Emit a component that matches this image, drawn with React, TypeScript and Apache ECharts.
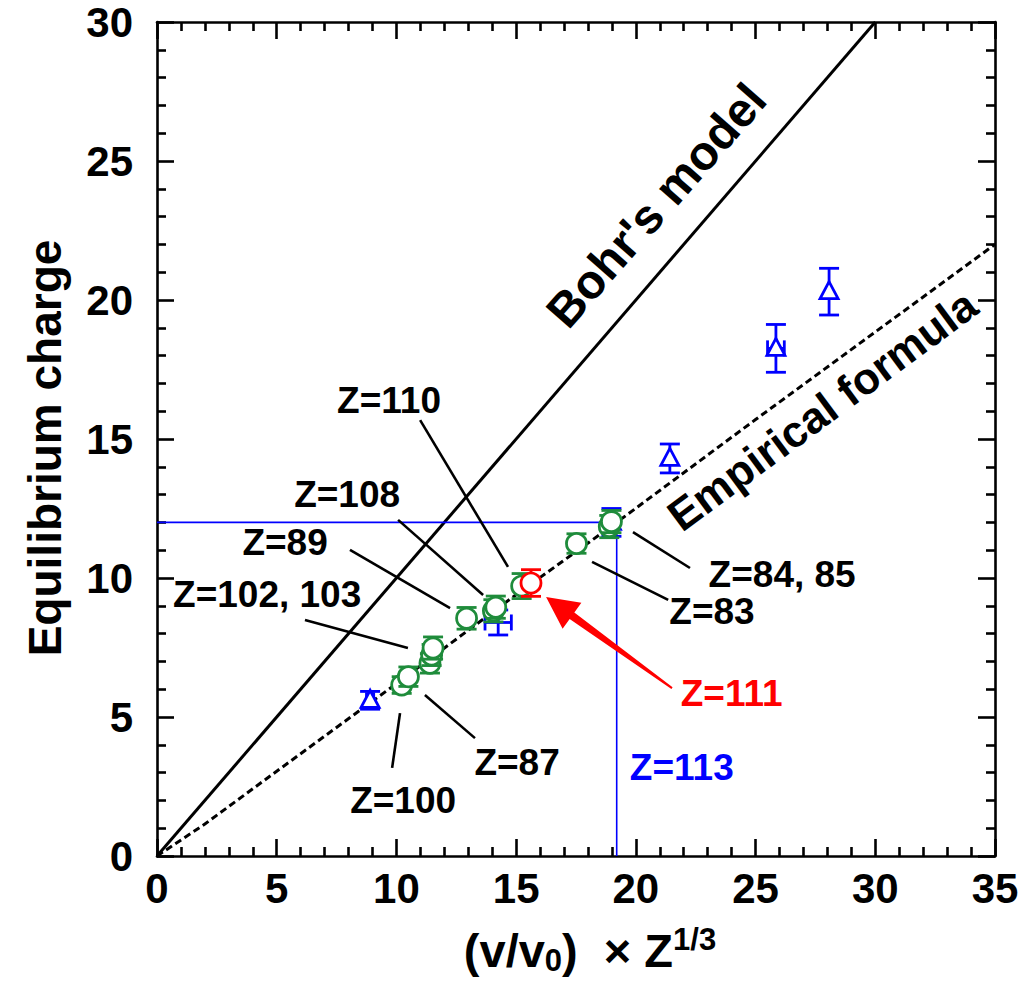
import React, { useEffect, useRef } from "react";
import * as echarts from "echarts";

const FONT = '"Liberation Sans", Arial, Helvetica, sans-serif';

// Theory curves [x, y]
const bohrLine = [[0, 0], [30, 30]];
const empiricalLine = [[0, 0], [2, 1.15], [5, 3.05], [10, 6.2], [15, 9.4], [19.2, 12.0], [25, 15.7], [30, 18.85], [35, 22.0]];

// Z=113 guide lines
const guideH = [[0, 12], [19.2, 12]];
const guideV = [[19.2, 0], [19.2, 12]];

// [x, y, yErr]
const greenPoints = [
  [10.22, 6.15, 0.3],
  [10.5, 6.45, 0.35],
  [11.4, 6.93, 0.35],
  [11.47, 7.23, 0.38],
  [11.53, 7.48, 0.4],
  [12.93, 8.55, 0.39],
  [14.05, 8.82, 0.4],
  [14.15, 8.95, 0.4],
  [15.23, 9.71, 0.45],
  [17.52, 11.24, 0.35],
  [18.89, 11.85, 0.4],
  [18.98, 12.03, 0.4],
];
const redPoints = [[15.62, 9.82, 0.48]];
// [x, y, yErr, xErr, markerShown]
const bluePoints = [
  [8.9, 5.6, 0.32, 0.15, 1],
  [14.25, 8.4, 0.45, 0.55, 0],
  [18.98, 12.0, 0.5, 0, 1],
  [21.42, 14.3, 0.52, 0, 1],
  [25.85, 18.26, 0.86, 0.35, 1],
  [28.07, 20.3, 0.84, 0, 1],
];

// pointer segments [x1, y1, x2, y2]
const pointerLines = [
  [10.99, 15.68, 14.66, 10.4],
  [10.07, 12.09, 13.62, 9.39],
  [8.06, 11.01, 12.24, 8.92],
  [6.18, 8.49, 10.48, 7.48],
  [10.15, 5.14, 9.82, 3.17],
  [11.19, 5.79, 13.28, 4.24],
  [19.88, 11.65, 22.26, 10.36],
  [18.17, 10.58, 21.35, 9.21],
];
// red arrow [tailX, tailY, tipX, tipY]
const arrowData = [[21.51, 6.04, 16.25, 9.32]];

// annotations [text, x, y, rotateDeg, color, fontSize]
const annotations: [string, number, number, number, string, number][] = [
  ["Z=110", 9.69, 16.4, 0, "#000", 37],
  ["Z=108", 7.94, 12.99, 0, "#000", 37],
  ["Z=89", 5.35, 11.26, 0, "#000", 37],
  ["Z=102, 103", 4.6, 9.42, 0, "#000", 37],
  ["Z=100", 10.28, 2.01, 0, "#000", 37],
  ["Z=87", 15.04, 3.38, 0, "#000", 37],
  ["Z=84, 85", 26.11, 10.11, 0, "#000", 37],
  ["Z=83", 23.18, 8.78, 0, "#000", 37],
  ["Z=111", 24.0, 5.83, 0, "#ff0000", 37],
  ["Z=113", 21.92, 3.18, 0, "#0000ff", 37],
  ["Bohr's model", 20.85, 23.4, 48.8, "#000", 48],
  ["Empirical formula", 27.78, 16.04, 36.5, "#000", 44],
];

const GREEN = "#1f8c3b";
const BLUE = "#0000ff";
const RED = "#ff0000";

function errorBarRenderer(color: string, marker: "circle" | "triangle") {
  return (params: any, api: any) => {
    const x = api.value(0);
    const y = api.value(1);
    const ey = api.value(2);
    const ex = marker === "triangle" ? api.value(3) : 0;
    const show = marker === "triangle" ? api.value(4) : 1;
    const c = api.coord([x, y]);
    const t = api.coord([x, y + ey]);
    const b = api.coord([x, y - ey]);
    const lw = 2.8;
    const cap = 10;
    const st = { stroke: color, lineWidth: lw };
    const children: any[] = [
      { type: "line", shape: { x1: c[0], y1: t[1], x2: c[0], y2: b[1] }, style: st },
      { type: "line", shape: { x1: c[0] - cap, y1: t[1], x2: c[0] + cap, y2: t[1] }, style: st },
      { type: "line", shape: { x1: c[0] - cap, y1: b[1], x2: c[0] + cap, y2: b[1] }, style: st },
    ];
    if (ex > 0) {
      const l = api.coord([x - ex, y]);
      const r = api.coord([x + ex, y]);
      children.push(
        { type: "line", shape: { x1: l[0], y1: c[1], x2: r[0], y2: c[1] }, style: st },
        { type: "line", shape: { x1: l[0], y1: c[1] - 8, x2: l[0], y2: c[1] + 8 }, style: st },
        { type: "line", shape: { x1: r[0], y1: c[1] - 8, x2: r[0], y2: c[1] + 8 }, style: st }
      );
    }
    if (show) {
      if (marker === "circle") {
        children.push({ type: "circle", shape: { cx: c[0], cy: c[1], r: 10 }, style: { fill: "#fff", stroke: color, lineWidth: lw } });
      } else {
        children.push({
          type: "polygon",
          shape: { points: [[c[0], c[1] - 10], [c[0] - 9, c[1] + 7], [c[0] + 9, c[1] + 7]] },
          style: { fill: "#fff", stroke: color, lineWidth: lw },
        });
      }
    }
    return { type: "group", children };
  };
}

export default function App() {
  const ref = useRef<HTMLDivElement>(null);
  useEffect(() => {
    if (!ref.current) return;
    const chart = echarts.init(ref.current, undefined, { renderer: "svg" });
    const axisCommon = {
      type: "value" as const,
      axisLine: { show: true, onZero: false, lineStyle: { color: "#000", width: 2.6 } },
      axisTick: { show: true, inside: true, length: 17, lineStyle: { color: "#000", width: 2.6 } },
      minorTick: { show: true, splitNumber: 5, length: 9, lineStyle: { color: "#000", width: 2.6 } },
      splitLine: { show: false },
    };
    const tickLabel = { fontSize: 42, lineHeight: 34, fontWeight: "bold" as const, color: "#000", fontFamily: FONT };
    chart.setOption({
      animation: false,
      backgroundColor: "#fff",
      grid: { left: 157, right: 27, top: 22, bottom: 141, containLabel: false },
      xAxis: [
        {
          ...axisCommon,
          min: 0, max: 35, interval: 5, position: "bottom",
          axisLabel: { ...tickLabel, margin: 15 },
          name: "{a|(v/v}{s|0}{a|)  × Z}{p|1/3}",
          nameLocation: "middle",
          nameGap: 68,
          nameTextStyle: {
            padding: [0, 0, 0, 28],
            rich: {
              a: { fontSize: 47, fontWeight: "bold", fontFamily: FONT, color: "#000", lineHeight: 52 },
              s: { fontSize: 31, fontWeight: "bold", fontFamily: FONT, color: "#000", verticalAlign: "bottom", lineHeight: 34 },
              p: { fontSize: 31, fontWeight: "bold", fontFamily: FONT, color: "#000", verticalAlign: "top", lineHeight: 30 },
            },
          },
        },
        { ...axisCommon, min: 0, max: 35, interval: 5, position: "top", axisLabel: { show: false } },
      ],
      yAxis: [
        { ...axisCommon, min: 0, max: 30, interval: 5, position: "left", axisLabel: { ...tickLabel, margin: 24 } },
        { ...axisCommon, min: 0, max: 30, interval: 5, position: "right", axisLabel: { show: false } },
      ],
      graphic: [
        {
          type: "text",
          x: 45,
          y: 448,
          rotation: Math.PI / 2,
          style: {
            text: "Equilibrium charge",
            font: `bold 46px ${FONT}`,
            fill: "#000",
            align: "center",
            verticalAlign: "middle",
          },
        },
      ],
      series: [
        {
          type: "line", data: bohrLine, showSymbol: false, symbol: "none",
          lineStyle: { color: "#000", width: 3 }, z: 2,
        },
        {
          type: "line", data: empiricalLine, showSymbol: false, symbol: "none",
          lineStyle: { color: "#000", width: 3, type: [7, 4] }, z: 2,
        },
        { type: "line", data: guideH, symbol: "none", lineStyle: { color: BLUE, width: 1.6 }, z: 2 },
        { type: "line", data: guideV, symbol: "none", lineStyle: { color: BLUE, width: 1.6 }, z: 2 },
        {
          type: "custom",
          data: pointerLines,
          z: 3,
          renderItem: (params: any, api: any) => {
            const p1 = api.coord([api.value(0), api.value(1)]);
            const p2 = api.coord([api.value(2), api.value(3)]);
            return { type: "line", shape: { x1: p1[0], y1: p1[1], x2: p2[0], y2: p2[1] }, style: { stroke: "#000", lineWidth: 2.6 } };
          },
        },
        { type: "custom", data: bluePoints, z: 4, renderItem: errorBarRenderer(BLUE, "triangle") },
        { type: "custom", data: greenPoints, z: 5, renderItem: errorBarRenderer(GREEN, "circle") },
        { type: "custom", data: redPoints, z: 6, renderItem: errorBarRenderer(RED, "circle") },
        {
          type: "custom",
          data: arrowData,
          z: 7,
          renderItem: (params: any, api: any) => {
            const tail = api.coord([api.value(0), api.value(1)]);
            const tip = api.coord([api.value(2), api.value(3)]);
            const dx = tail[0] - tip[0];
            const dy = tail[1] - tip[1];
            const len = Math.sqrt(dx * dx + dy * dy);
            const ux = dx / len, uy = dy / len;
            const nx = -uy, ny = ux;
            const headLen = 32, headHalf = 16, shaftHalf = 4, tailHalf = 1;
            const bx = tip[0] + ux * headLen, by = tip[1] + uy * headLen;
            const pts = [
              tip,
              [bx + nx * headHalf, by + ny * headHalf],
              [bx + nx * shaftHalf, by + ny * shaftHalf],
              [tail[0] + nx * tailHalf, tail[1] + ny * tailHalf],
              [tail[0] - nx * tailHalf, tail[1] - ny * tailHalf],
              [bx - nx * shaftHalf, by - ny * shaftHalf],
              [bx - nx * headHalf, by - ny * headHalf],
            ];
            return { type: "polygon", shape: { points: pts }, style: { fill: RED } };
          },
        },
        {
          type: "custom",
          data: annotations.map((a) => [a[1], a[2], a[3]]),
          z: 8,
          renderItem: (params: any, api: any) => {
            const a = annotations[params.dataIndex];
            const p = api.coord([a[1], a[2]]);
            return {
              type: "text",
              x: p[0],
              y: p[1],
              rotation: (a[3] * Math.PI) / 180,
              style: {
                text: a[0],
                font: `bold ${a[5]}px ${FONT}`,
                fill: a[4],
                align: "center",
                verticalAlign: "middle",
              },
            };
          },
        },
      ],
    });
    return () => chart.dispose();
  }, []);
  return <div ref={ref} style={{ position: "absolute", left: 0, top: 0, width: 1022, height: 997, background: "#fff" }} />;
}
